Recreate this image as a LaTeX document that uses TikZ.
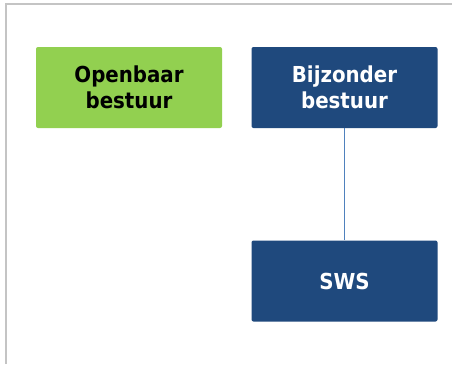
\documentclass[tikz,border=0pt]{standalone}
\usepackage{fontspec}
\setmainfont{DejaVu Sans Condensed}
\definecolor{boxgreen}{HTML}{92D050}
\definecolor{boxblue}{HTML}{1F497D}
\definecolor{linkblue}{HTML}{4F81BD}
\definecolor{framegray}{HTML}{C4C4C4}
\tikzset{
  orgbox/.style={rounded corners=2pt, minimum width=186pt, minimum height=81pt,
    inner sep=0pt, align=center, font=\bfseries\fontsize{22}{26}\selectfont},
  greenbox/.style={orgbox, fill=boxgreen, text=black},
  bluebox/.style={orgbox, fill=boxblue, text=white},
  link/.style={draw=linkblue, line width=1.6pt}
}
\begin{document}
\begin{tikzpicture}[x=1pt,y=-1pt]
\useasboundingbox (0,0) rectangle (452,364);
\fill[white] (0,0) rectangle (452,364);
\draw[framegray, line width=1.5pt] (6,364) -- (6,4) -- (452,4);
\node[greenbox] (ob) at (129,87.5) {Openbaar\\bestuur};
\node[bluebox] (bb) at (344.5,87.5) {Bijzonder\\bestuur};
\node[bluebox] (sws) at (344.5,281) {SWS};
\draw[link] (bb.south) -- (sws.north);
\end{tikzpicture}
\end{document}
